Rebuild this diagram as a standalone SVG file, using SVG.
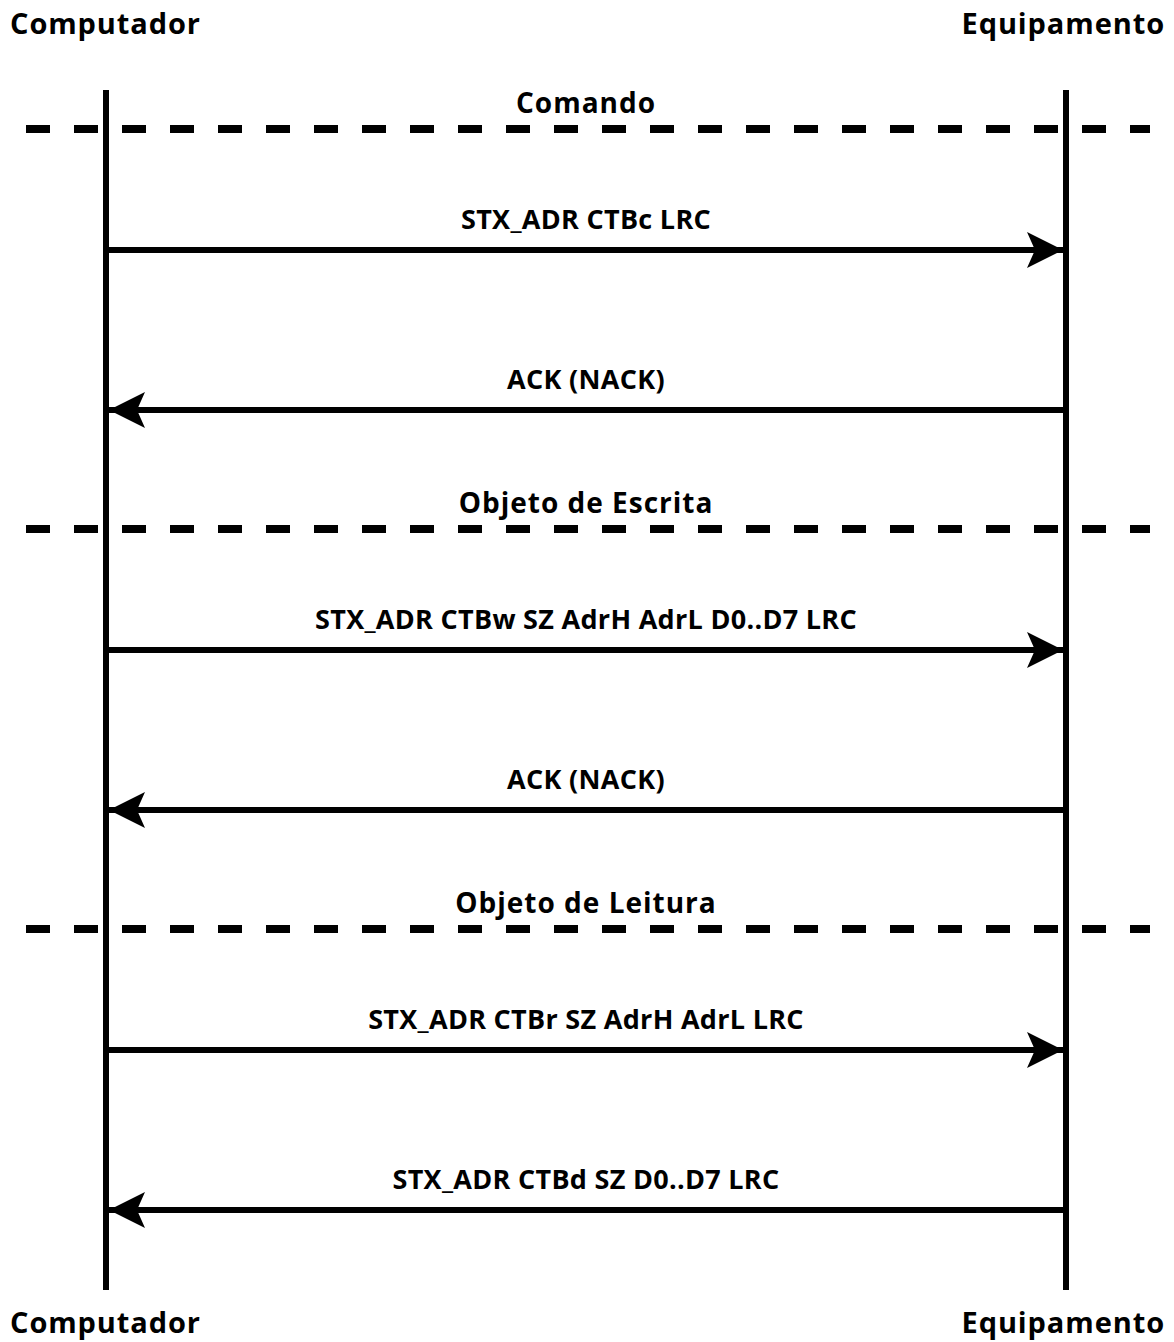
<svg xmlns="http://www.w3.org/2000/svg" width="1174" height="1342" viewBox="0 0 1174 1342">
<style>
text{font-family:"Open Sans","Noto Sans","Liberation Sans",sans-serif;font-weight:bold;fill:#000}
.actor{font-size:29px;letter-spacing:0.9px}
.sec{font-size:28px;letter-spacing:1px;text-anchor:middle}
.msg{font-size:27px;letter-spacing:0.3px;text-anchor:middle}
.life{stroke:#000;stroke-width:6;fill:none}
.sep{stroke:#000;stroke-width:8;stroke-dasharray:24 24;fill:none}
.arr{stroke:#000;stroke-width:6;fill:none}
</style>
<defs>
<marker id="ah" markerUnits="userSpaceOnUse" markerWidth="40" markerHeight="40" viewBox="0 0 40 40" refX="36" refY="20" orient="auto">
<path d="M0,2 L36,20 L0,38 L8,20 Z" fill="#000"/>
</marker>
</defs>
<g id="computador-top"><text class="actor" x="10" y="34">Computador</text></g>
<g id="equipamento-top"><text class="actor" x="1165" y="34" text-anchor="end">Equipamento</text></g>
<g id="computador-bottom"><text class="actor" x="10" y="1333">Computador</text></g>
<g id="equipamento-bottom"><text class="actor" x="1165" y="1333" text-anchor="end">Equipamento</text></g>
<g id="lifelines">
<line class="life" x1="106" y1="90" x2="106" y2="1290"/>
<line class="life" x1="1066" y1="90" x2="1066" y2="1290"/>
</g>
<g id="sections">
<line class="sep" x1="26" y1="129" x2="1150" y2="129"/>
<text class="sec" x="586" y="113">Comando</text>
<line class="sep" x1="26" y1="529" x2="1150" y2="529"/>
<text class="sec" x="586" y="513">Objeto de Escrita</text>
<line class="sep" x1="26" y1="929" x2="1150" y2="929"/>
<text class="sec" x="586" y="913">Objeto de Leitura</text>
</g>
<g id="connectors">
<line class="arr" x1="106" y1="250" x2="1063" y2="250" marker-end="url(#ah)"/>
<text class="msg" x="586" y="229">STX_ADR CTBc LRC</text>
<line class="arr" x1="1066" y1="410" x2="109" y2="410" marker-end="url(#ah)"/>
<text class="msg" x="586" y="389">ACK (NACK)</text>
<line class="arr" x1="106" y1="650" x2="1063" y2="650" marker-end="url(#ah)"/>
<text class="msg" x="586" y="629">STX_ADR CTBw SZ AdrH AdrL D0..D7 LRC</text>
<line class="arr" x1="1066" y1="810" x2="109" y2="810" marker-end="url(#ah)"/>
<text class="msg" x="586" y="789">ACK (NACK)</text>
<line class="arr" x1="106" y1="1050" x2="1063" y2="1050" marker-end="url(#ah)"/>
<text class="msg" x="586" y="1029">STX_ADR CTBr SZ AdrH AdrL LRC</text>
<line class="arr" x1="1066" y1="1210" x2="109" y2="1210" marker-end="url(#ah)"/>
<text class="msg" x="586" y="1189">STX_ADR CTBd SZ D0..D7 LRC</text>
</g>
</svg>
